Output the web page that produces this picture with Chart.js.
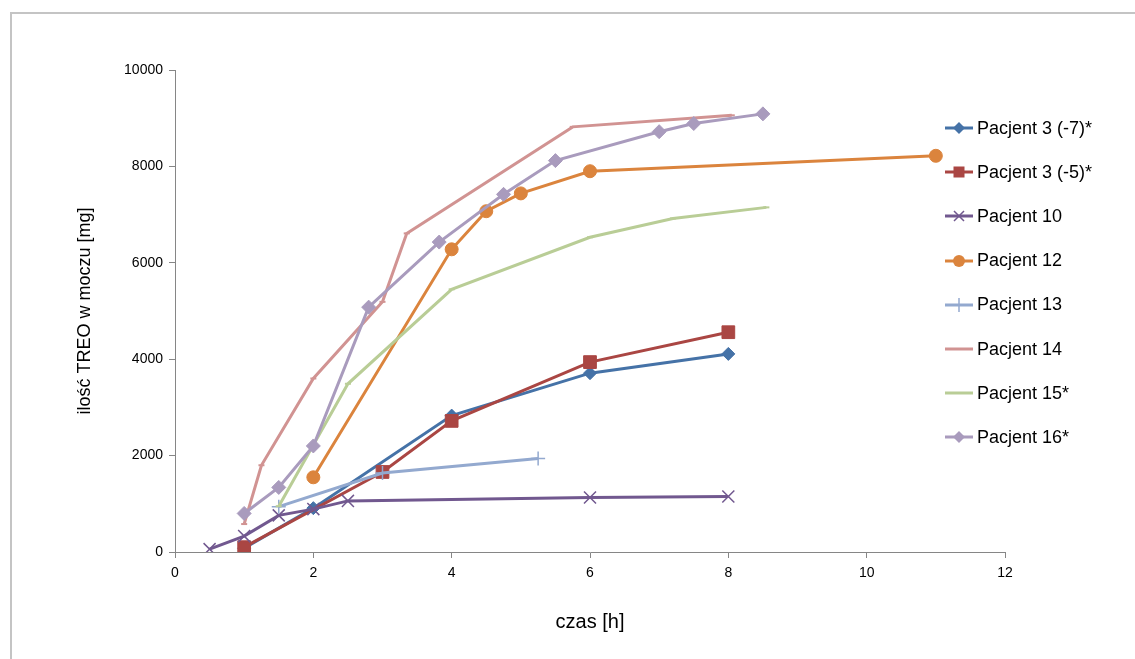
<!DOCTYPE html>
<html>
<head>
<meta charset="utf-8">
<script src="https://cdn.jsdelivr.net/npm/chart.js@4.4.0/dist/chart.umd.min.js"></script>
<style>
  body { margin: 0; background: #fff; }
  #wrap { position: relative; width: 1135px; height: 659px; overflow: hidden; }
  #frame { position: absolute; left: 10px; top: 12px; width: 1200px; height: 700px; border: 2px solid #c4c4c4; box-sizing: border-box; }
  #myChart { position: absolute; left: 0; top: 0; }
  #legend { position: absolute; left: 944px; top: 0; font-family: "Liberation Sans", Arial, sans-serif; font-size: 18px; color: #000; }
  .item { position: absolute; left: 0; height: 22px; display: flex; align-items: center; white-space: nowrap; }
  .item svg { margin-right: 3px; }
</style>
</head>
<body>
<div id="wrap">
  <div id="frame"></div>
  <canvas id="myChart" width="1135" height="659"></canvas>
  <div id="legend"></div>
</div>
<script>
// series names and values
const names = ['Pacjent 3 (-7)*', 'Pacjent 3 (-5)*', 'Pacjent 10', 'Pacjent 12', 'Pacjent 13', 'Pacjent 14', 'Pacjent 15*', 'Pacjent 16*'];

const p3aX = [1, 2, 4, 6, 8];
const p3aY = [80, 910, 2830, 3710, 4110];
const p3bX = [1, 3, 4, 6, 8];
const p3bY = [100, 1660, 2720, 3940, 4560];
const p10X = [0.5, 1, 1.5, 2, 2.5, 6, 8];
const p10Y = [60, 330, 760, 890, 1060, 1130, 1150];
const p12X = [2, 4, 4.5, 5, 6, 11];
const p12Y = [1550, 6280, 7070, 7440, 7900, 8220];
const p13X = [1.5, 3, 5.25];
const p13Y = [940, 1640, 1940];
const p14X = [1, 1.25, 2, 3, 3.35, 5.75, 8.05];
const p14Y = [580, 1800, 3600, 5190, 6610, 8820, 9060];
const p15X = [1.5, 2.5, 4, 6, 7.2, 8.55];
const p15Y = [950, 3490, 5450, 6530, 6920, 7150];
const p16X = [1, 1.5, 2, 2.8, 3.82, 4.75, 5.5, 7, 7.5, 8.5];
const p16Y = [800, 1340, 2200, 5080, 6430, 7420, 8120, 8720, 8890, 9090];

const xTicks = [0, 2, 4, 6, 8, 10, 12];
const yTicks = [0, 2000, 4000, 6000, 8000, 10000];

const colors = ['#4572A7', '#AA4643', '#71588F', '#DB843D', '#93A9CF', '#D19392', '#B9CD96', '#A99BBD'];
const styles = ['rectRot', 'rect', 'crossRot', 'circle', 'cross', 'line', 'line', 'rectRot'];
const radii = [6.5, 9, 8.5, 6.5, 7, 3, 3, 7];

function pts(xs, ys) {
    return xs.map((x, i) => ({ x: x, y: ys[i] }));
}
const allX = [p3aX, p3bX, p10X, p12X, p13X, p14X, p15X, p16X];
const allY = [p3aY, p3bY, p10Y, p12Y, p13Y, p14Y, p15Y, p16Y];

const datasets = names.map((n, i) => ({
    label: n,
    data: pts(allX[i], allY[i]),
    showLine: true,
    borderColor: colors[i],
    backgroundColor: colors[i],
    borderWidth: 3,
    pointStyle: styles[i],
    pointRadius: radii[i],
    pointBorderColor: colors[i],
    pointBackgroundColor: colors[i],
    pointBorderWidth: (styles[i] == 'crossRot' || styles[i] == 'cross') ? 1.5 : (styles[i] == 'line' ? 2 : 1),
    tension: 0,
    order: names.length - i
}));

Chart.defaults.font.family = '"Liberation Sans", Arial, sans-serif';
Chart.defaults.color = '#000';

const ctx = document.getElementById('myChart').getContext('2d');
const myChart = new Chart(ctx, {
    type: 'scatter',
    data: { datasets: datasets },
    options: {
        responsive: false,
        animation: false,
        layout: { padding: { left: 70, top: 70, right: 130, bottom: 17 } },
        plugins: { legend: { display: false }, tooltip: { enabled: false } },
        scales: {
            x: {
                type: 'linear', min: 0, max: 12,
                afterBuildTicks: (s) => { s.ticks = xTicks.map(v => ({ value: v })); },
                afterFit: (s) => { s.height = 90; },
                ticks: { color: '#000', font: { size: 14 }, padding: 7, callback: (v) => String(v) },
                grid: { drawOnChartArea: false, color: '#868686', tickLength: 6 },
                border: { color: '#868686', width: 1 },
                title: { display: true, text: 'czas [h]', color: '#000', font: { size: 20 }, padding: { top: 0, bottom: 8 } }
            },
            y: {
                type: 'linear', min: 0, max: 10000,
                afterBuildTicks: (s) => { s.ticks = yTicks.map(v => ({ value: v })); },
                afterFit: (s) => { s.width = 105; },
                ticks: { color: '#000', font: { size: 14 }, padding: 6, callback: (v) => String(v) },
                grid: { drawOnChartArea: false, color: '#868686', tickLength: 6 },
                border: { color: '#868686', width: 1 },
                title: { display: true, text: 'ilość TREO w moczu [mg]', color: '#000', font: { size: 18 }, padding: { top: 4, bottom: 0 } }
            }
        }
    }
});

// legend, line with the marker in the middle
function markerSvg(i) {
    const c = colors[i];
    let m = '';
    if (styles[i] == 'rectRot') m = `<polygon points="15,4 21,10 15,16 9,10" fill="${c}"/>`;
    if (styles[i] == 'rect') m = `<rect x="9.5" y="4.5" width="11" height="11" fill="${c}"/>`;
    if (styles[i] == 'crossRot') m = `<path d="M10,5 L20,15 M20,5 L10,15" stroke="${c}" stroke-width="1.5"/>`;
    if (styles[i] == 'circle') m = `<circle cx="15" cy="10" r="6" fill="${c}"/>`;
    if (styles[i] == 'cross') m = `<path d="M15,3 L15,17" stroke="${c}" stroke-width="1.5"/>`;
    return `<svg width="30" height="20"><line x1="1" y1="10" x2="29" y2="10" stroke="${c}" stroke-width="3"/>${m}</svg>`;
}
const legend = document.getElementById('legend');
names.forEach((n, i) => {
    const d = document.createElement('div');
    d.className = 'item';
    d.style.top = (128 + i * 44.2 - 11) + 'px';
    d.innerHTML = markerSvg(i) + '<span>' + n + '</span>';
    legend.appendChild(d);
});
</script>
</body>
</html>
